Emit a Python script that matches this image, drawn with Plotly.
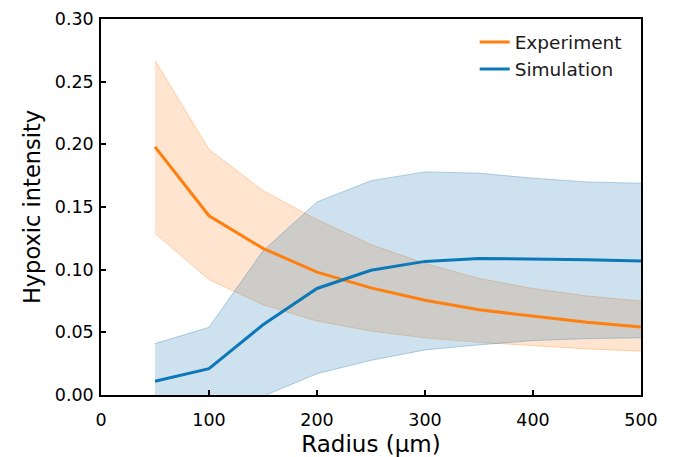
import plotly.graph_objects as go

radius = [50, 100, 150, 200, 250, 300, 350, 400, 450, 500]

exp_mean = [0.198, 0.143, 0.117, 0.098, 0.0855, 0.0756, 0.068, 0.0628, 0.058, 0.0543]
exp_upper = [0.267, 0.196, 0.163, 0.140, 0.120, 0.105, 0.093, 0.085, 0.079, 0.075]
exp_lower = [0.129, 0.092, 0.072, 0.059, 0.051, 0.0456, 0.042, 0.0394, 0.0368, 0.035]

sim_mean = [0.011, 0.021, 0.056, 0.085, 0.0995, 0.1066, 0.109, 0.1086, 0.108, 0.107]
sim_upper = [0.041, 0.054, 0.115, 0.154, 0.171, 0.178, 0.177, 0.173, 0.170, 0.169]
sim_lower = [-0.03, -0.03, -0.001, 0.017, 0.0277, 0.036, 0.040, 0.0434, 0.045, 0.0456]

x_ticks = [0, 100, 200, 300, 400, 500]
y_ticks = [0.00, 0.05, 0.10, 0.15, 0.20, 0.25, 0.30]

ORANGE = "#ff7f0e"
BLUE = "#0d78b8"
FONT = "DejaVu Sans"

fig = go.Figure()

def band(upper, lower, rgb, alpha):
    fig.add_trace(go.Scatter(x=radius, y=upper, mode="lines",
                             line=dict(color=f"rgba({rgb},{alpha + 0.1})", width=1),
                             showlegend=False, hoverinfo="skip"))
    fig.add_trace(go.Scatter(x=radius, y=lower, mode="lines",
                             line=dict(color=f"rgba({rgb},{alpha + 0.1})", width=1),
                             fill="tonexty", fillcolor=f"rgba({rgb},{alpha})",
                             showlegend=False, hoverinfo="skip"))

band(exp_upper, exp_lower, "255,127,14", 0.2)
band(sim_upper, sim_lower, "31,119,180", 0.22)

fig.add_trace(go.Scatter(x=radius, y=exp_mean, mode="lines", name="Experiment",
                         line=dict(color=ORANGE, width=3)))
fig.add_trace(go.Scatter(x=radius, y=sim_mean, mode="lines", name="Simulation",
                         line=dict(color=BLUE, width=3)))

axis_common = dict(showline=True, linecolor="black", linewidth=1.5, mirror=True,
                   ticks="inside", ticklen=5, tickwidth=1.5, tickcolor="black",
                   showgrid=False, zeroline=False, automargin=False,
                   tickfont=dict(family=FONT, size=17.5, color="black"))

fig.update_xaxes(range=[0, 500], tickvals=x_ticks, ticklabelstandoff=8,
                 title=dict(text="Radius (µm)", font=dict(family=FONT, size=23, color="black"),
                            standoff=12),
                 **axis_common)
fig.update_yaxes(range=[0, 0.30], tickvals=y_ticks, tickformat=".2f", ticklabelstandoff=2,
                 title=dict(text="Hypoxic intensity", font=dict(family=FONT, size=22.5, color="black"),
                            standoff=8),
                 **axis_common)

fig.update_layout(
    width=678, height=457,
    margin=dict(l=101, r=37, t=19, b=62),
    paper_bgcolor="white", plot_bgcolor="white",
    font=dict(family=FONT, color="black"),
    legend=dict(x=0.692, y=0.988, xanchor="left", yanchor="top", traceorder="normal",
                bgcolor="rgba(255,255,255,0)", borderwidth=0,
                font=dict(family=FONT, size=18.5, color="#1a1a1a")),
)

fig.write_html("out.html")
